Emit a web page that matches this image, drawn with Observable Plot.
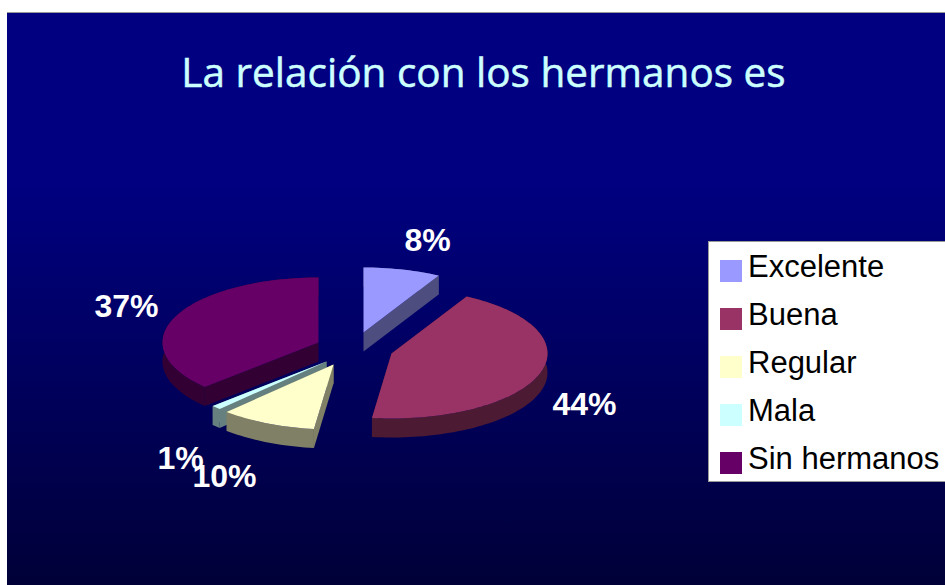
<!DOCTYPE html>
<html lang="es">
<head>
<meta charset="utf-8">
<script src="https://cdn.jsdelivr.net/npm/d3@7"></script>
<script src="https://cdn.jsdelivr.net/npm/@observablehq/plot@0.6"></script>
<style>
html,body{margin:0;padding:0;background:#fff;width:945px;height:585px;overflow:hidden}
#slide{position:absolute;left:7px;top:12px;width:938px;height:573px;box-sizing:border-box;
  border-top:1px solid #999;background:linear-gradient(180deg,#000080 0%,#000080 30%,#000038 100%)}
#title{position:absolute;left:0;top:44px;width:967px;text-align:center;font-family:"Open Sans",sans-serif;
  font-size:40.5px;line-height:56px;color:#CCFFFF;white-space:nowrap;-webkit-text-stroke:0.5px #CCFFFF}
#chart{position:absolute;left:0;top:0}
#legend{position:absolute;left:708px;top:241px;width:237px;height:241px;box-sizing:border-box;background:#fff;
  border:1px solid #999;border-right:none;font-family:"Liberation Sans",Arial,sans-serif;font-size:31px;color:#000}
.row{position:absolute;left:0;width:236px;height:36px}
.sw{position:absolute;left:11px;top:11px;width:22px;height:22px}
.lb{position:absolute;left:39px;top:0;line-height:36px;white-space:nowrap}
</style>
</head>
<body>
<div id="slide"></div>
<div id="chart"></div>
<div id="title">La relación con los hermanos es</div>
<div id="legend"></div>
<script>
// Data
const categories = ["Excelente", "Buena", "Regular", "Mala", "Sin hermanos"];
const percents = [8, 44, 10, 1, 37];
const topColors = ["#9999FF", "#993366", "#FFFFCC", "#CCFFFF", "#660066"];
const sideColors = ["#4D4D80", "#4D1A33", "#808066", "#668080", "#330033"];

// Layout of the tilted, exploded pie (plot units = picture pixels)
const centerX = [363, 391, 333, 326, 318];
const centerY = [332, 353, 364, 361, 342];
const labelX = [427, 584, 224, 180, 126];
const labelY = [240, 404, 476, 458, 306];
const radiusX = 156, radiusY = 65, depth = 19;
const paintOrder = [4, 0, 1, 3, 2];

const total = d3.sum(percents);
let running = 0;
const slices = percents.map((v, i) => {
  const start = running / total * 2 * Math.PI;
  running += v;
  return {i, start, end: running / total * 2 * Math.PI};
});

function rim(s) {
  const n = Math.max(2, Math.ceil((s.end - s.start) / 0.03));
  return d3.range(n + 1).map(k => {
    const a = s.start + (s.end - s.start) * k / n;
    return [centerX[s.i] + radiusX * Math.sin(a), centerY[s.i] - radiusY * Math.cos(a)];
  });
}

const faces = [];
function addFace(id, color, pts) {
  pts.forEach(([x, y]) => faces.push({id, color, x, y}));
}
const down = ([x, y]) => [x, y + depth];
paintOrder.forEach(i => {
  const s = slices[i], r = rim(s), apex = [centerX[i], centerY[i]];
  const first = r[0], last = r[r.length - 1];
  addFace(i + "a", sideColors[i], [apex, first, down(first), down(apex)]);
  addFace(i + "b", sideColors[i], [apex, last, down(last), down(apex)]);
  addFace(i + "c", sideColors[i], [...r, ...r.map(down).reverse()]);
  addFace(i + "d", topColors[i], [apex, ...r]);
});

const labels = categories.map((c, i) => ({text: percents[i] + "%", x: labelX[i], y: labelY[i], o: i === 3 ? 0 : 1}))
  .sort((a, b) => a.o - b.o);

const plot = Plot.plot({
  width: 945, height: 585, margin: 0,
  style: {background: "transparent", overflow: "visible"},
  x: {axis: null, domain: [0, 945], range: [0, 945]},
  y: {axis: null, domain: [0, 585], range: [0, 585]},
  color: {type: "identity"},
  marks: [
    Plot.line(faces, {x: "x", y: "y", z: "id", fill: "color", stroke: "none", curve: "linear-closed"}),
    Plot.text(labels, {x: "x", y: "y", text: "text", fill: "#fff", fontSize: 32, fontWeight: "bold",
      fontFamily: "Liberation Sans, Arial, sans-serif"})
  ]
});
document.getElementById("chart").appendChild(plot);

const legend = d3.select("#legend");
categories.forEach((c, i) => {
  const row = legend.append("div").attr("class", "row").style("top", (7 + i * 48) + "px");
  row.append("span").attr("class", "sw").style("background", topColors[i]);
  row.append("span").attr("class", "lb").text(c);
});
</script>
</body>
</html>
